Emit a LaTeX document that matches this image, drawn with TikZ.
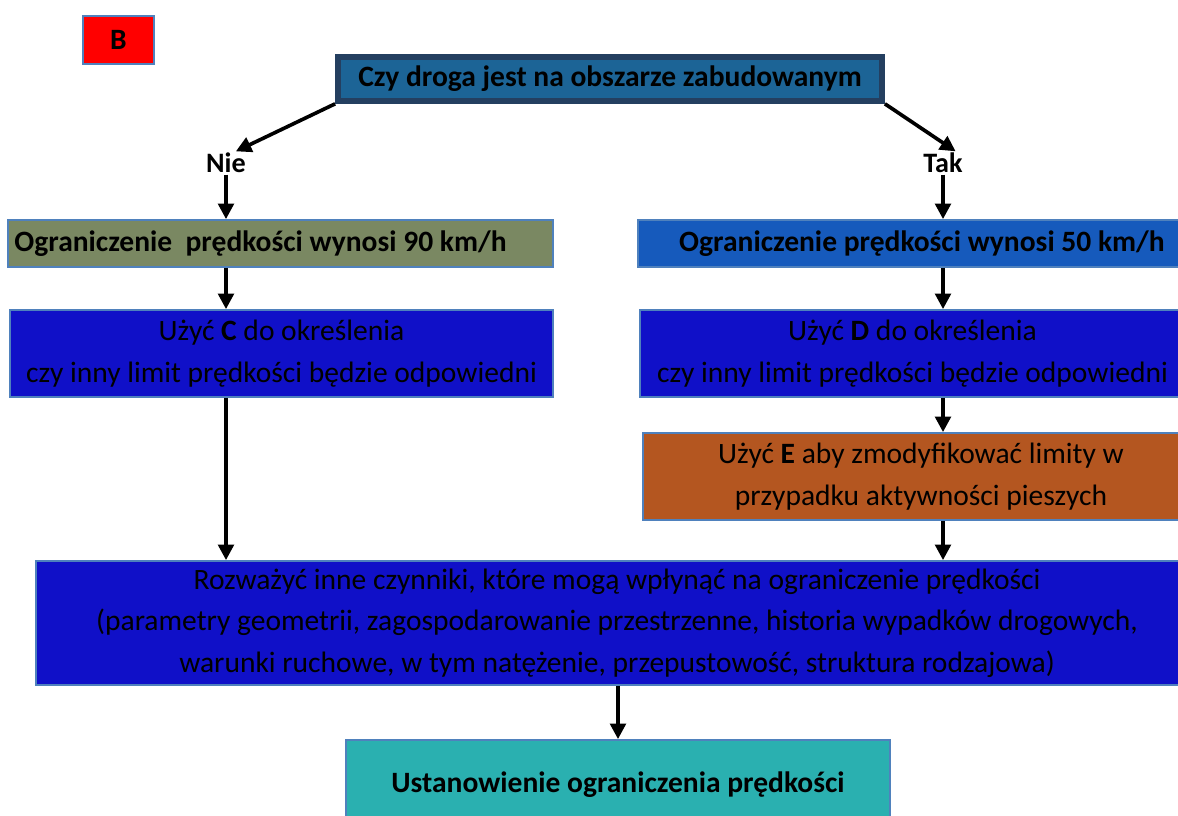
\documentclass[tikz,border=0pt]{standalone}
\usepackage{fontspec}
\setmainfont{Carlito}
\usepackage{xcolor}
\usepackage{tikz}
\usetikzlibrary{arrows.meta,positioning}
\definecolor{ramka}{RGB}{79,129,189}
\definecolor{granat}{RGB}{36,63,96}
\definecolor{pytanie}{RGB}{28,100,150}
\definecolor{oliwka}{RGB}{122,136,98}
\definecolor{nieb}{RGB}{22,90,188}
\definecolor{indygo}{RGB}{16,16,200}
\definecolor{rdza}{RGB}{180,86,32}
\definecolor{morski}{RGB}{42,176,176}
\tikzset{
  krok/.style={rectangle, draw=ramka, line width=1.2pt, fill=#1,
               align=center, font=\fontsize{21}{29.5}\selectfont, inner sep=2pt},
  pogrub/.style={font=\bfseries\fontsize{21}{25}\selectfont},
  decyzja/.style={font=\bfseries\fontsize{20}{24}\selectfont, inner sep=1pt},
  arr/.style={-{Triangle[length=11pt,width=11pt]}, line width=2.6pt, draw=black},
}

\begin{document}
\begin{tikzpicture}[x=0.025cm, y=-0.025cm]
  \useasboundingbox (0,0) rectangle (1178,816);
  % etykieta
  \node[krok=red, minimum width=1.775cm, minimum height=1.2cm, pogrub] (etB) at (118.5,40) {B};
  % pytanie
  \node[krok=pytanie, draw=granat, line width=4pt, minimum width=13.6cm, minimum height=1.1cm, pogrub]
    (pyt) at (610,79) {Czy droga jest na obszarze zabudowanym};
  \node[decyzja] (nie) at (226,163) {Nie};
  \node[decyzja] (tak) at (943,163) {Tak};
  % limity
  \node[krok=oliwka, minimum width=13.625cm, minimum height=1.175cm, pogrub, text width=13.3cm, align=flush left]
    (v90) at (280.5,243.5) {Ograniczenie\ \ prędkości wynosi 90 km/h};
  \node[krok=nieb, minimum width=14.2cm, minimum height=1.175cm, pogrub]
    (v50) at (922,243.5) {Ograniczenie prędkości wynosi 50 km/h};
  % C, D, E
  \node[krok=indygo, minimum width=13.575cm, minimum height=2.175cm] (uzC) at (281.5,353.5)
    {Użyć \textbf{C} do określenia\\czy inny limit prędkości będzie odpowiedni};
  \node[krok=indygo, minimum width=13.625cm, minimum height=2.175cm] (uzD) at (912.5,353.5)
    {Użyć \textbf{D} do określenia\\czy inny limit prędkości będzie odpowiedni};
  \node[krok=rdza, minimum width=13.9cm, minimum height=2.175cm] (uzE) at (921,476.5)
    {Użyć \textbf{E} aby zmodyfikować limity w\\przypadku aktywności pieszych};
  % czynniki
  \node[krok=indygo, minimum width=29.05cm, minimum height=3.1cm] (rozw) at (617,623)
    {Rozważyć inne czynniki, które mogą wpłynąć na ograniczenie prędkości\\
     (parametry geometrii, zagospodarowanie przestrzenne, historia wypadków drogowych,\\
     warunki ruchowe, w tym natężenie, przepustowość, struktura rodzajowa)};
  % wynik
  \node[krok=morski, minimum width=13.6cm, minimum height=2.25cm, pogrub]
    (ust) at (618,785) {Ustanowienie ograniczenia prędkości};
  % strzalki
  \draw[arr] (pyt.south west) -- ([xshift=7pt]nie.north);
  \draw[arr] (pyt.south east) -- ([xshift=9pt]tak.north);
  \draw[arr] (nie.south) -- (nie.south |- v90.north);
  \draw[arr] (tak.south) -- (tak.south |- v50.north);
  \draw[arr] (v90.south -| nie) -- (uzC.north -| nie);
  \draw[arr] (v50.south -| tak) -- (uzD.north -| tak);
  \draw[arr] (uzC.south -| nie) -- (rozw.north -| nie);
  \draw[arr] (uzD.south -| tak) -- (uzE.north -| tak);
  \draw[arr] (uzE.south -| tak) -- (rozw.north -| tak);
  \draw[arr] (rozw.south -| ust) -- (ust.north);
\end{tikzpicture}
\end{document}
